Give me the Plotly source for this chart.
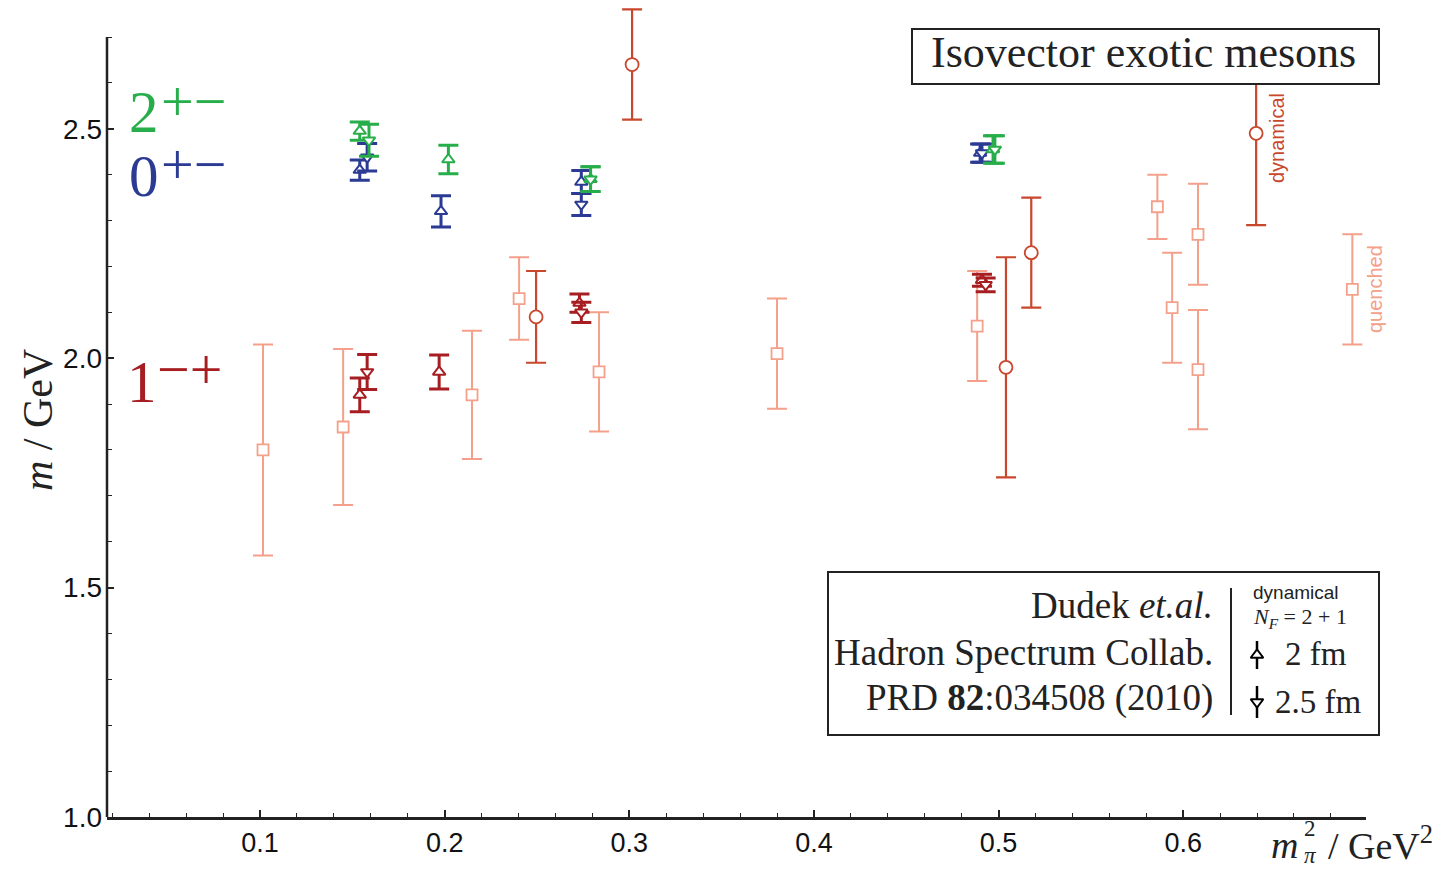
import plotly.graph_objects as go

# ---------------- data ----------------
# quenched (open squares)
q_x = [0.1016, 0.145, 0.2148, 0.2403, 0.2836, 0.380, 0.4884, 0.586, 0.594, 0.608, 0.608, 0.6916]
q_y = [1.80, 1.85, 1.92, 2.13, 1.97, 2.01, 2.07, 2.33, 2.11, 2.27, 1.975, 2.15]
q_err = [0.23, 0.17, 0.14, 0.09, 0.13, 0.12, 0.12, 0.07, 0.12, 0.11, 0.13, 0.12]

# dynamical, other groups (open circles)
d_x = [0.2495, 0.3015, 0.504, 0.5177, 0.6395]
d_y = [2.09, 2.64, 1.98, 2.23, 2.49]
d_err = [0.10, 0.12, 0.24, 0.12, 0.20]

# Hadron Spectrum Collab. 1-+ (dark red)
m1_2fm_x = [0.154, 0.197, 0.273, 0.491]
m1_2fm_y = [1.92, 1.97, 2.12, 2.17]
m1_2fm_err = [0.037, 0.037, 0.02, 0.013]
m1_25fm_x = [0.158, 0.274, 0.493]
m1_25fm_y = [1.97, 2.10, 2.16]
m1_25fm_err = [0.038, 0.022, 0.015]

# 0+- (blue)
m0_2fm_x = [0.154, 0.198, 0.274, 0.490]
m0_2fm_y = [2.41, 2.32, 2.384, 2.447]
m0_2fm_err = [0.022, 0.034, 0.025, 0.02]
m0_25fm_x = [0.158, 0.274, 0.491]
m0_25fm_y = [2.438, 2.335, 2.447]
m0_25fm_err = [0.03, 0.024, 0.02]

# 2+- (green)
m2_2fm_x = [0.154, 0.202, 0.279, 0.497]
m2_2fm_y = [2.495, 2.433, 2.39, 2.455]
m2_2fm_err = [0.02, 0.031, 0.027, 0.03]
m2_25fm_x = [0.159, 0.279, 0.498]
m2_25fm_y = [2.475, 2.39, 2.455]
m2_25fm_err = [0.035, 0.027, 0.03]

x_ticks = [0.1, 0.2, 0.3, 0.4, 0.5, 0.6]
y_ticks = [1.0, 1.5, 2.0, 2.5]
y_minor = [1.1, 1.2, 1.3, 1.4, 1.6, 1.7, 1.8, 1.9, 2.1, 2.2, 2.3, 2.4, 2.6, 2.7]
Y_AXIS_TOP = 2.70

# ---------------- style / layout helpers ----------------
C_Q = "#F4A08A"
C_D = "#C9472C"
C_R = "#A71E22"
C_B = "#2B3A93"
C_G = "#27AE4A"
AX = "#222222"
SERIF = "Liberation Serif"
SANS = "Liberation Sans"

W, H = 1452, 869
L, R, T, B = 107, 1366, 8, 817   # plot area in pixels


def fx(px):
    return (px - L) / (R - L)


def fy(py):
    return (B - py) / (B - T)


fig = go.Figure()


def add_series(x, y, err, color, symbol, size, thick, capw, lw=1.8):
    fig.add_trace(go.Scatter(
        x=x, y=y, mode="markers",
        marker=dict(symbol=symbol, size=size, color="white",
                    line=dict(color=color, width=lw)),
        error_y=dict(type="data", array=err, visible=True, color=color,
                     thickness=thick, width=capw),
        cliponaxis=False, showlegend=False, hoverinfo="skip"))


add_series(q_x, q_y, q_err, C_Q, "square", 11, 2, 10, lw=1.8)
add_series(d_x, d_y, d_err, C_D, "circle", 13, 2.2, 10, lw=1.8)
add_series(m1_2fm_x, m1_2fm_y, m1_2fm_err, C_R, "triangle-up", 11, 3, 10, lw=2)
add_series(m1_25fm_x, m1_25fm_y, m1_25fm_err, C_R, "triangle-down", 11, 3, 10, lw=2)
add_series(m0_2fm_x, m0_2fm_y, m0_2fm_err, C_B, "triangle-up", 11, 3, 10, lw=2)
add_series(m0_25fm_x, m0_25fm_y, m0_25fm_err, C_B, "triangle-down", 11, 3, 10, lw=2)
add_series(m2_2fm_x, m2_2fm_y, m2_2fm_err, C_G, "triangle-up", 11, 3, 10, lw=2)
add_series(m2_25fm_x, m2_25fm_y, m2_25fm_err, C_G, "triangle-down", 11, 3, 10, lw=2)

# legend key glyphs on an overlay axis in plot-fraction units
key_px = [(1257, 655, 14), (1257, 702, 16)]
for (kx, ky, ke), sym in zip(key_px, ["triangle-up", "triangle-down"]):
    fig.add_trace(go.Scatter(
        x=[fx(kx)], y=[fy(ky)], xaxis="x2", yaxis="y2", mode="markers",
        marker=dict(symbol=sym, size=11, color="white", line=dict(color="black", width=2)),
        error_y=dict(type="data", array=[ke / (B - T)], visible=True, color="black",
                     thickness=2.5, width=0),
        cliponaxis=False, showlegend=False, hoverinfo="skip"))

y_top = 1.0 + (B - T) / ((B - 37) / (Y_AXIS_TOP - 1.0))

fig.update_layout(
    width=W, height=H,
    margin=dict(l=L, r=W - R, t=T, b=H - B),
    paper_bgcolor="white", plot_bgcolor="white",
    xaxis=dict(range=[0.0171, 0.699], tickvals=x_ticks, tickformat=".1f",
               ticks="inside", ticklen=7, tickwidth=1.8, tickcolor=AX,
               minor=dict(dtick=0.02, tick0=0, ticks="inside", ticklen=4,
                          tickwidth=1.3, tickcolor=AX, showgrid=False),
               showline=True, linewidth=2.5, linecolor=AX,
               showgrid=False, zeroline=False,
               tickfont=dict(family=SANS, size=27, color="#111")),
    yaxis=dict(range=[1.0, y_top], tickvals=y_ticks, tickformat=".1f",
               ticks="inside", ticklen=7, tickwidth=1.8, tickcolor=AX,
               minor=dict(tickvals=y_minor, ticks="inside", ticklen=5,
                          tickwidth=1.3, tickcolor=AX, showgrid=False),
               showline=False,
               showgrid=False, zeroline=False, ticklabelstandoff=4,
               tickfont=dict(family=SANS, size=28, color="#111")),
    xaxis2=dict(range=[0, 1], overlaying="x", visible=False, fixedrange=True),
    yaxis2=dict(range=[0, 1], overlaying="y", visible=False, fixedrange=True),
)

# y axis line ending at 2.7
fig.add_shape(type="line", xref="paper", yref="y", x0=0, x1=0, y0=1.0, y1=Y_AXIS_TOP,
              line=dict(color=AX, width=2.5), layer="above")

# boxes
fig.add_shape(type="rect", xref="paper", yref="paper", x0=fx(912), x1=fx(1379),
              y0=fy(84), y1=fy(29), fillcolor="white", line=dict(color=AX, width=2),
              layer="above")
fig.add_shape(type="rect", xref="paper", yref="paper", x0=fx(828), x1=fx(1379),
              y0=fy(735), y1=fy(572), fillcolor="rgba(0,0,0,0)",
              line=dict(color=AX, width=2), layer="above")
fig.add_shape(type="line", xref="paper", yref="paper", x0=fx(1231), x1=fx(1231),
              y0=fy(715), y1=fy(588), line=dict(color=AX, width=2), layer="above")


def ann(text, px, py, size, color="#222", family=SERIF, xanchor="center",
        yanchor="middle", angle=0):
    fig.add_annotation(text=text, x=fx(px), y=fy(py), xref="paper", yref="paper",
                       showarrow=False, xanchor=xanchor, yanchor=yanchor,
                       textangle=angle, font=dict(family=family, size=size, color=color))


ann("Isovector exotic mesons", 1143, 52, 44)

# state labels
ann("2", 127, 112, 59, color=C_G, xanchor="left")
ann("+−", 159, 101, 58, color=C_G, xanchor="left")
ann("0", 127, 176, 59, color=C_B, xanchor="left")
ann("+−", 159, 164, 58, color=C_B, xanchor="left")
ann("1", 125, 382, 59, color=C_R, xanchor="left")
ann("−+", 155, 370, 58, color=C_R, xanchor="left")

ann("dynamical", 1277, 138, 20, color=C_D, family=SANS, angle=-90)
ann("quenched", 1375, 289, 20, color=C_Q, family=SANS, angle=-90)

ann("Dudek <i>et.al.</i>", 1215, 605, 37, xanchor="right")
ann("Hadron Spectrum Collab.", 1215, 652, 37, xanchor="right")
ann("PRD <b>82</b>:034508 (2010)", 1215, 698, 37, xanchor="right")
ann("dynamical", 1296, 592, 19, family=SANS)
ann("<i>N</i><sub><i>F</i></sub> = 2 + 1", 1300, 618, 22)
ann("2 fm", 1283, 654, 33, xanchor="left")
ann("2.5 fm", 1273, 702, 33, xanchor="left")

# axis titles
ann("<i>m</i> / GeV", 38, 420, 42, angle=-90)
ann("<i>m</i>", 1300, 845, 38, xanchor="right")
ann("2", 1302, 829, 23, xanchor="left")
ann("<i>π</i>", 1302, 855, 23, xanchor="left")
ann("/ GeV<sup>2</sup>", 1326, 843, 38, xanchor="left")

fig.write_html("out.html")
